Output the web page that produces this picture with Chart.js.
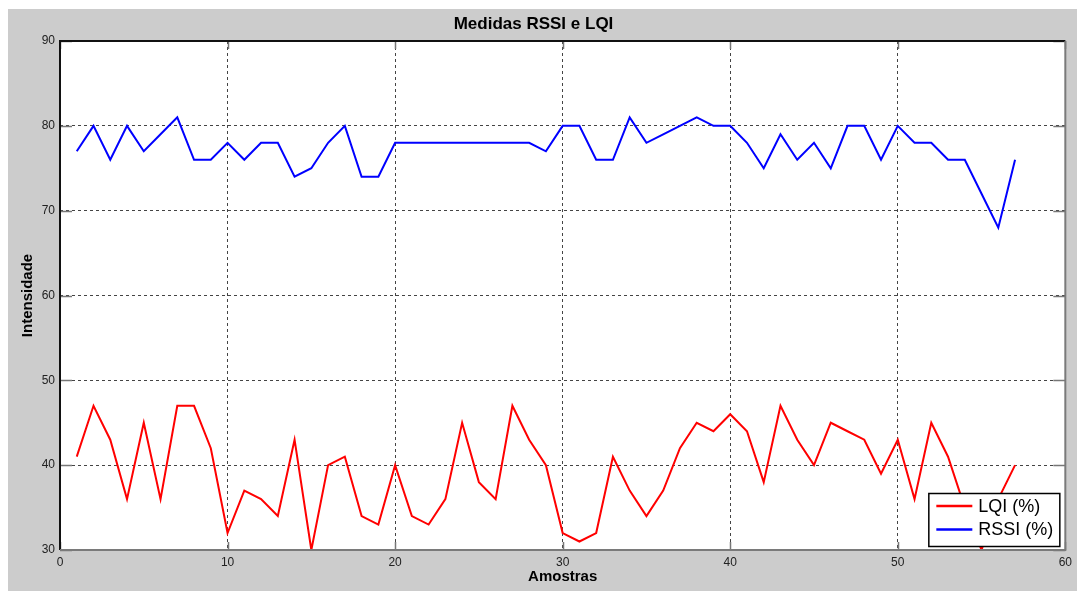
<!DOCTYPE html>
<html>
<head>
<meta charset="utf-8">
<script src="https://cdn.jsdelivr.net/npm/chart.js@4.4.0/dist/chart.umd.min.js"></script>
<style>
  html, body { margin: 0; padding: 0; background: #fff; }
  #wrap { width: 1077px; height: 591px; }
</style>
</head>
<body>
<div id="wrap"><canvas id="grafico" width="1077" height="591"></canvas></div>
<script>
// dados
var amostras = [1, 2, 3, 4, 5, 6, 7, 8, 9, 10, 11, 12, 13, 14, 15, 16, 17, 18, 19, 20,
  21, 22, 23, 24, 25, 26, 27, 28, 29, 30, 31, 32, 33, 34, 35, 36, 37, 38, 39, 40,
  41, 42, 43, 44, 45, 46, 47, 48, 49, 50, 51, 52, 53, 54, 55, 56, 57];
var lqi = [41, 47, 43, 36, 45, 36, 47, 47, 42, 32, 37, 36, 34, 43, 30, 40, 41, 34, 33, 40,
  34, 33, 36, 45, 38, 36, 47, 43, 40, 32, 31, 32, 41, 37, 34, 37, 42, 45, 44, 46,
  44, 38, 47, 43, 40, 45, 44, 43, 39, 43, 36, 45, 41, 35, 30, 36, 40];
var rssi = [77, 80, 76, 80, 77, 79, 81, 76, 76, 78, 76, 78, 78, 74, 75, 78, 80, 74, 74, 78,
  78, 78, 78, 78, 78, 78, 78, 78, 77, 80, 80, 76, 76, 81, 78, 79, 80, 81, 80, 80,
  78, 75, 79, 76, 78, 75, 80, 80, 76, 80, 78, 78, 76, 76, 72, 68, 76];
var ticksX = [0, 10, 20, 30, 40, 50, 60];
var ticksY = [30, 40, 50, 60, 70, 80, 90];

var fonte = "'Liberation Sans', Arial, sans-serif";

function pontos(valores) {
  return amostras.map((x, i) => ({ x: x, y: valores[i] }));
}

// fundo cinza da figura + area branca
var fundoPlugin = {
  id: "fundo",
  beforeDraw(chart) {
    var ctx = chart.ctx;
    var a = chart.chartArea;
    ctx.save();
    ctx.fillStyle = "#ffffff";
    ctx.fillRect(0, 0, chart.width, chart.height);
    ctx.fillStyle = "#cccccc";
    ctx.fillRect(8, 9, chart.width - 8, chart.height - 9);
    ctx.fillStyle = "#ffffff";
    ctx.fillRect(a.left, a.top, a.right - a.left, a.bottom - a.top);
    ctx.restore();
  },
};

// caixa dos eixos e marcas internas (estilo MATLAB)
var caixaPlugin = {
  id: "caixa",
  afterDatasetsDraw(chart) {
    var ctx = chart.ctx;
    var a = chart.chartArea;
    var sx = chart.scales.x;
    var sy = chart.scales.y;
    ctx.save();
    ctx.lineWidth = 1.5;
    ctx.strokeStyle = "#777";
    ctx.beginPath();
    ticksX.forEach((t) => {
      var px = Math.round(sx.getPixelForValue(t)) + 0.5;
      ctx.moveTo(px, a.top);
      ctx.lineTo(px, a.top + 8);
      ctx.moveTo(px, a.bottom);
      ctx.lineTo(px, a.bottom - 8);
    });
    ticksY.forEach((t) => {
      var py = Math.round(sy.getPixelForValue(t)) + 0.5;
      ctx.moveTo(a.left, py);
      ctx.lineTo(a.left + 12, py);
      ctx.moveTo(a.right, py);
      ctx.lineTo(a.right - 12, py);
    });
    ctx.stroke();
    // topo e esquerda pretos
    ctx.strokeStyle = "#111";
    ctx.lineWidth = 2;
    ctx.beginPath();
    ctx.moveTo(a.left, a.bottom);
    ctx.lineTo(a.left, a.top);
    ctx.lineTo(a.right, a.top);
    ctx.stroke();
    // base e direita cinza
    ctx.strokeStyle = "#7a7a7a";
    ctx.beginPath();
    ctx.moveTo(a.right, a.top);
    ctx.lineTo(a.right, a.bottom);
    ctx.lineTo(a.left, a.bottom);
    ctx.stroke();
    ctx.restore();
  },
};

// legenda dentro da area, canto inferior direito
var legendaPlugin = {
  id: "legendaInterna",
  afterDraw(chart) {
    var ctx = chart.ctx;
    var a = chart.chartArea;
    var w = 131, h = 53;
    var x0 = a.right - 6 - w;
    var y0 = a.bottom - 4 - h;
    ctx.save();
    ctx.fillStyle = "#fff";
    ctx.fillRect(x0, y0, w, h);
    ctx.strokeStyle = "#000";
    ctx.lineWidth = 1.5;
    ctx.strokeRect(x0 + 0.5, y0 + 0.5, w, h);
    ctx.font = "18px " + fonte;
    ctx.textBaseline = "middle";
    ctx.textAlign = "left";
    chart.data.datasets.forEach((ds, i) => {
      var yy = y0 + 13 + i * 23.5;
      ctx.strokeStyle = ds.borderColor;
      ctx.lineWidth = 2.5;
      ctx.beginPath();
      ctx.moveTo(x0 + 8, yy);
      ctx.lineTo(x0 + 44, yy);
      ctx.stroke();
      ctx.fillStyle = "#000";
      ctx.fillText(ds.label, x0 + 50, yy + 1);
    });
    ctx.restore();
  },
};

var ctx = document.getElementById("grafico").getContext("2d");
var grafico = new Chart(ctx, {
  type: "line",
  data: {
    datasets: [
      {
        label: "LQI (%)",
        data: pontos(lqi),
        borderColor: "#ff0000",
        borderWidth: 2,
        pointRadius: 0,
        tension: 0,
        fill: false,
      },
      {
        label: "RSSI (%)",
        data: pontos(rssi),
        borderColor: "#0000ff",
        borderWidth: 2,
        pointRadius: 0,
        tension: 0,
        fill: false,
      },
    ],
  },
  options: {
    responsive: false,
    animation: false,
    devicePixelRatio: 1,
    layout: { padding: { left: 0, right: 10, top: 0, bottom: 0 } },
    plugins: {
      legend: { display: false },
      tooltip: { enabled: false },
      title: {
        display: true,
        text: "Medidas RSSI e LQI",
        color: "#000",
        font: { family: fonte, size: 17, weight: "bold", lineHeight: 1.2 },
        padding: { top: 14, bottom: 6.6 },
      },
    },
    scales: {
      x: {
        type: "linear",
        min: 0,
        max: 60,
        afterBuildTicks: (scale) => {
          scale.ticks = ticksX.map((v) => ({ value: v }));
        },
        afterFit: (scale) => {
          scale.height = 41;
        },
        grid: { color: "#444", lineWidth: 1, drawTicks: false },
        border: { display: false, dash: [3, 3] },
        ticks: {
          color: "#222",
          padding: 5,
          maxRotation: 0,
          font: { family: fonte, size: 12 },
        },
        title: {
          display: true,
          text: "Amostras",
          color: "#000",
          font: { family: fonte, size: 15, weight: "bold", lineHeight: 1.2 },
          padding: { top: 0, bottom: 5 },
        },
      },
      y: {
        type: "linear",
        min: 30,
        max: 90,
        afterBuildTicks: (scale) => {
          scale.ticks = ticksY.map((v) => ({ value: v }));
        },
        afterFit: (scale) => {
          scale.width = 60;
        },
        grid: { color: "#444", lineWidth: 1, drawTicks: false },
        border: { display: false, dash: [3, 3] },
        ticks: {
          color: "#222",
          padding: 5,
          font: { family: fonte, size: 12 },
        },
        title: {
          display: true,
          text: "Intensidade",
          color: "#000",
          font: { family: fonte, size: 15, weight: "bold", lineHeight: 1.2 },
          padding: { top: 19, bottom: 0 },
        },
      },
    },
  },
  plugins: [fundoPlugin, caixaPlugin, legendaPlugin],
});
</script>
</body>
</html>
